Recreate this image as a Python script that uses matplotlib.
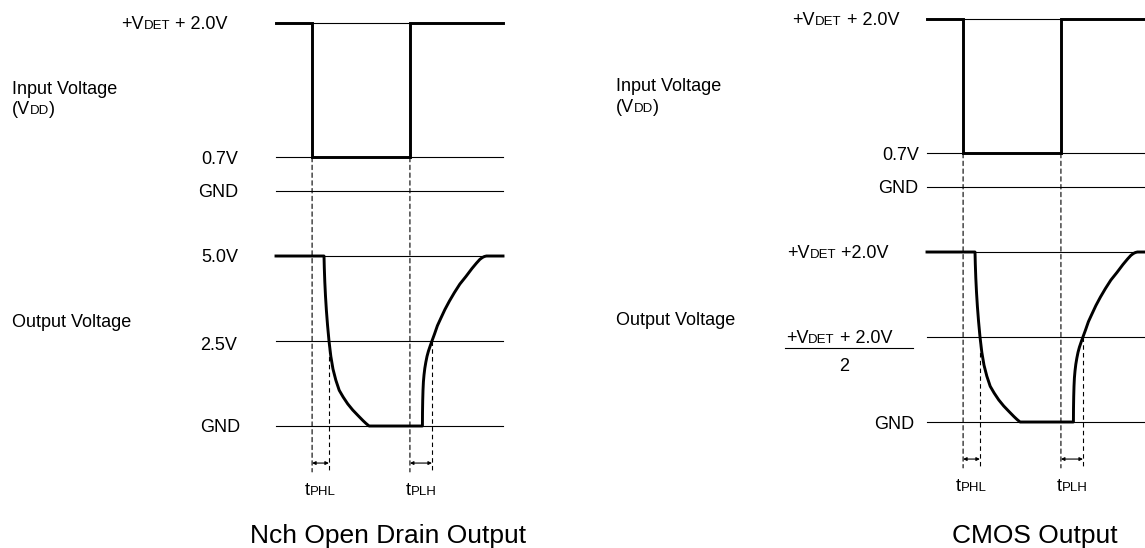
import matplotlib
matplotlib.use("Agg")
import matplotlib.pyplot as plt
from matplotlib.lines import Line2D
from matplotlib.patches import ConnectionPatch
from matplotlib.transforms import ScaledTranslation

plt.rcParams["font.family"] = ["Liberation Sans", "DejaVu Sans"]

W, H, DPI = 1145, 548, 100

# time axis runs 0..100 over the width of the level lines
# input in schematic units: GND = 0, 0.7V = 1, +VDET+2.0V = 5
input_levels = [5, 1, 0]
input_t = [0, 15.9, 15.9, 59.0, 59.0, 100]
input_v = [5, 5, 1, 1, 5, 5]

# output as fraction of full swing (GND = 0, high = 1)
output_levels = [1, 0.5, 0]
fall_t = [0, 21.15, 21.28, 21.5, 21.8, 22.2, 22.7, 23.35, 24.15, 25.1, 26.35,
          27.85, 29.6, 31.6, 33.8, 36.1, 38.3, 39.65, 41.0]
fall_v = [1, 1, 0.93, 0.847, 0.765, 0.68, 0.594, 0.5, 0.41, 0.335, 0.27,
          0.21, 0.17, 0.13, 0.094, 0.062, 0.032, 0.015, 0]
rise_t = [64.5, 64.54, 64.63, 64.76, 64.94, 65.2, 65.56, 66.0, 66.53, 67.14, 67.9,
          68.7, 69.8, 71.1, 72.65, 74.4, 76.4, 78.6, 81.0, 83.7, 86.3, 88.3, 89.8,
          90.9, 91.8, 92.7, 100]
rise_v = [0, 0.08, 0.15, 0.21, 0.26, 0.30, 0.34, 0.375, 0.41, 0.44, 0.47,
          0.50, 0.54, 0.59, 0.635, 0.685, 0.735, 0.785, 0.835, 0.88, 0.926, 0.958, 0.98,
          0.991, 0.997, 1.0, 1.0]
output_t = fall_t + rise_t
output_v = fall_v + rise_v

t_phl = (15.9, 23.3)   # input falls -> output crosses half
t_plh = (59.0, 68.7)   # input rises -> output crosses half

LW_THIN = 0.8
LW_SIG = 2.1
DASH = (0, (4, 3))
FS = 13
FS_SUB = 9.5
FS_TITLE = 19

fig = plt.figure(figsize=(W / DPI, H / DPI), dpi=DPI)
renderer = fig.canvas.get_renderer()


def fx(px):
    return px / W


def fy(py):
    return 1 - py / H


def rich(x, y, pieces, ha="left", transform=None):
    # several font sizes on one baseline
    transform = transform or fig.transFigure
    texts = [fig.text(x, y, s, fontsize=fs, ha="left", va="baseline", transform=transform)
             for s, fs in pieces]
    widths = [t.get_window_extent(renderer).width for t in texts]
    off = {"left": 0, "center": -sum(widths) / 2, "right": -sum(widths)}[ha]
    for t, w in zip(texts, widths):
        t.set_transform(transform + ScaledTranslation(off / DPI, 0, fig.dpi_scale_trans))
        off += w
    return texts


def panel(x0, gnd_in, gnd_out):
    ax_in = fig.add_axes([fx(x0), fy(gnd_in), 227 / W, 168 / H])
    ax_out = fig.add_axes([fx(x0), fy(gnd_out), 227 / W, 170 / H])
    ax_in.set_ylim(0, 5)
    ax_out.set_ylim(0, 1)
    for ax in (ax_in, ax_out):
        ax.set_xlim(0, 100)
        ax.axis("off")

    for lv in input_levels:
        ax_in.plot([0, 100], [lv, lv], color="black", lw=LW_THIN, clip_on=False)
    for lv in output_levels:
        ax_out.plot([0, 100], [lv, lv], color="black", lw=LW_THIN, clip_on=False)
    ax_in.plot(input_t, input_v, color="black", lw=LW_SIG, clip_on=False,
               solid_joinstyle="miter")
    ax_out.plot(output_t, output_v, color="black", lw=LW_SIG, clip_on=False,
                solid_joinstyle="round")

    for ta, tb in (t_phl, t_plh):
        con = ConnectionPatch(xyA=(ta, 1), coordsA=ax_in.transData,
                              xyB=(ta, -0.27), coordsB=ax_out.transData,
                              color="black", lw=LW_THIN, linestyle=DASH)
        fig.add_artist(con)
        ax_out.plot([tb, tb], [0.5, -0.27], color="black", lw=LW_THIN,
                    linestyle=DASH, clip_on=False)
        ax_out.annotate("", xy=(ta, -0.218), xytext=(tb, -0.218), annotation_clip=False,
                        arrowprops=dict(arrowstyle="<|-|>", color="black", lw=LW_THIN,
                                        mutation_scale=5, shrinkA=0, shrinkB=0))
    rich((t_phl[0] + t_phl[1]) / 2, -0.406, [("t", FS), ("PHL", FS_SUB)],
         ha="center", transform=ax_out.transData)
    rich((t_plh[0] + t_plh[1]) / 2, -0.406, [("t", FS), ("PLH", FS_SUB)],
         ha="center", transform=ax_out.transData)
    return ax_in, ax_out


# ---------------- left: Nch open drain ----------------
panel(276, 191, 426)
rich(fx(228), fy(29), [("+V", FS), ("DET", FS_SUB), (" + 2.0V", FS)], ha="right")
fig.text(fx(12), fy(94), "Input Voltage", fontsize=FS, va="baseline")
rich(fx(12), fy(114), [("(V", FS), ("DD", FS_SUB), (")", FS)])
fig.text(fx(238), fy(164), "0.7V", fontsize=FS, ha="right", va="baseline")
fig.text(fx(238), fy(197), "GND", fontsize=FS, ha="right", va="baseline")
fig.text(fx(12), fy(327), "Output Voltage", fontsize=FS, va="baseline")
fig.text(fx(238), fy(262), "5.0V", fontsize=FS, ha="right", va="baseline")
fig.text(fx(237), fy(350), "2.5V", fontsize=FS, ha="right", va="baseline")
fig.text(fx(240), fy(432), "GND", fontsize=FS, ha="right", va="baseline")
fig.text(fx(388), fy(543), "Nch Open Drain Output", fontsize=FS_TITLE, ha="center",
         va="baseline")

# ---------------- right: CMOS ----------------
panel(927, 187, 422)
rich(fx(899), fy(25), [("+V", FS), ("DET", FS_SUB), (" + 2.0V", FS)], ha="right")
fig.text(fx(616), fy(91), "Input Voltage", fontsize=FS, va="baseline")
rich(fx(616), fy(112), [("(V", FS), ("DD", FS_SUB), (")", FS)])
fig.text(fx(919), fy(160), "0.7V", fontsize=FS, ha="right", va="baseline")
fig.text(fx(918), fy(193), "GND", fontsize=FS, ha="right", va="baseline")
fig.text(fx(616), fy(325), "Output Voltage", fontsize=FS, va="baseline")
rich(fx(889), fy(258), [("+V", FS), ("DET", FS_SUB), (" +2.0V", FS)], ha="right")
rich(fx(839), fy(343), [("+V", FS), ("DET", FS_SUB), (" + 2.0V", FS)], ha="center")
fig.add_artist(Line2D([fx(785), fx(913)], [fy(348), fy(348)], color="black",
                      lw=LW_THIN, transform=fig.transFigure))
fig.text(fx(844), fy(371), "2", fontsize=FS, ha="center", va="baseline")
fig.text(fx(914), fy(429), "GND", fontsize=FS, ha="right", va="baseline")
fig.text(fx(1035), fy(543), "CMOS Output", fontsize=FS_TITLE, ha="center", va="baseline")

fig.savefig("out.png", dpi=DPI)
